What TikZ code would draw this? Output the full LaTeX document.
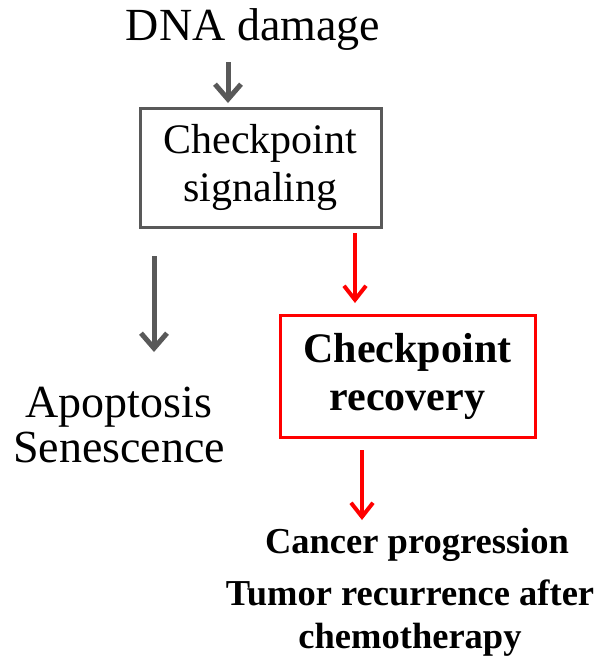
\documentclass[tikz,border=0pt]{standalone}
\usepackage{fontspec}
\setmainfont{Liberation Serif}
\usetikzlibrary{arrows.meta}
\definecolor{dgray}{HTML}{595959}
\definecolor{rred}{HTML}{FF0000}
\begin{document}
\begin{tikzpicture}[x=1pt,y=-1pt,
  garrow/.style={draw=dgray,line width=5pt,-{Straight Barb[length=15pt,width=26pt,line width=5pt]}},
  rarrow/.style={draw=rred,line width=4pt,-{Straight Barb[length=14pt,width=22pt,line width=4pt]}},
  gbox/.style={draw=dgray,line width=3pt,minimum width=241pt,minimum height=119pt,align=center,inner sep=0pt,font=\fontsize{42}{48}\selectfont},
  rbox/.style={draw=rred,line width=3pt,minimum width=255pt,minimum height=122pt,align=center,inner sep=0pt,font=\fontsize{42}{48}\selectfont\bfseries},
  plain/.style={align=center,inner sep=0pt}]
\useasboundingbox (0,0) rectangle (600,667);
\node[plain,font=\fontsize{46}{52}\selectfont] (dna) at (253,30) {DNA damage};
\node[gbox] (cs) at (260.5,167.5) {Checkpoint\\signaling};
\node[rbox] (cr) at (407.5,376) {Checkpoint\\recovery};
\node[plain,font=\fontsize{46}{45}\selectfont] (apo) at (119,425) {Apoptosis\\Senescence};
\node[plain,font=\fontsize{36.5}{53}\selectfont\bfseries] (canc) at (417,545) {Cancer progression};
\node[plain,font=\fontsize{36.5}{43}\selectfont\bfseries] (tum) at (410,618) {Tumor recurrence after\\chemotherapy};
\coordinate (a1s) at (228,62);
\coordinate (a1e) at (228,103);
\draw[garrow] (a1s) -- (a1e);
\coordinate (a2s) at (154,256);
\coordinate (a2e) at (154,352);
\draw[garrow] (a2s) -- (a2e);
\coordinate (a3s) at (355,233);
\coordinate (a3e) at (355,303);
\draw[rarrow] (a3s) -- (a3e);
\coordinate (a4s) at (362,450);
\coordinate (a4e) at (362,520);
\draw[rarrow] (a4s) -- (a4e);
\end{tikzpicture}
\end{document}
